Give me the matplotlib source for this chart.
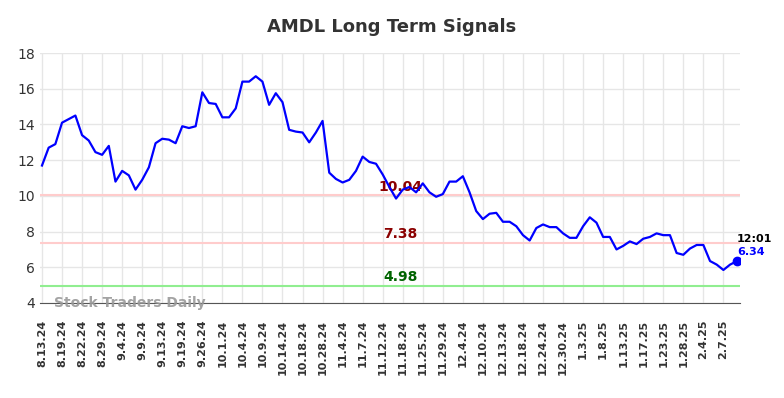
import matplotlib
matplotlib.use("Agg")
import matplotlib.pyplot as plt

# AMDL closing prices (3 sessions per labelled date)
prices = [
    11.7, 12.7, 12.9, 14.1, 14.3, 14.5, 13.4, 13.1, 12.45, 12.3,
    12.8, 10.8, 11.4, 11.15, 10.35, 10.9, 11.6, 12.95, 13.2, 13.15,
    12.95, 13.9, 13.8, 13.9, 15.8, 15.2, 15.15, 14.4, 14.4, 14.9,
    16.4, 16.4, 16.7, 16.4, 15.1, 15.75, 15.25, 13.7, 13.6, 13.55,
    13.0, 13.55, 14.2, 11.3, 10.95, 10.75, 10.9, 11.4, 12.2, 11.9,
    11.8, 11.2, 10.5, 9.85, 10.35, 10.5, 10.2, 10.7, 10.2, 9.95,
    10.1, 10.8, 10.8, 11.1, 10.2, 9.15, 8.7, 9.0, 9.05, 8.55,
    8.55, 8.3, 7.8, 7.5, 8.2, 8.4, 8.25, 8.25, 7.9, 7.65,
    7.65, 8.3, 8.8, 8.5, 7.7, 7.7, 7.0, 7.2, 7.45, 7.3,
    7.6, 7.7, 7.9, 7.8, 7.8, 6.8, 6.7, 7.05, 7.25, 7.25,
    6.35, 6.15, 5.85, 6.15, 6.34,
]

tick_labels = [
    "8.13.24", "8.19.24", "8.22.24", "8.29.24", "9.4.24", "9.9.24", "9.13.24",
    "9.19.24", "9.26.24", "10.1.24", "10.4.24", "10.9.24", "10.14.24", "10.18.24",
    "10.28.24", "11.4.24", "11.7.24", "11.12.24", "11.18.24", "11.25.24",
    "11.29.24", "12.4.24", "12.10.24", "12.13.24", "12.18.24", "12.24.24",
    "12.30.24", "1.3.25", "1.8.25", "1.13.25", "1.17.25", "1.23.25", "1.28.25",
    "2.4.25", "2.7.25",
]

resistance_hi = 10.04
resistance_lo = 7.38
support = 4.98
last_time = "12:01"

fig = plt.figure(figsize=(7.84, 3.98), dpi=100)
ax = fig.add_axes([0.051, 0.2387, 0.893, 0.628])

x = list(range(len(prices)))
ax.plot(x, prices, color="blue", linewidth=1.6, zorder=3)
ax.plot(x[-1], prices[-1], "o", color="blue", markersize=6, zorder=4)

ax.axhline(resistance_hi, color="#ffcccc", linewidth=1.5, zorder=2)
ax.axhline(resistance_lo, color="#ffcccc", linewidth=1.5, zorder=2)
ax.axhline(support, color="#90ee90", linewidth=1.5, zorder=2)

mid = 53.7
ax.text(mid, resistance_hi + 0.08, f"{resistance_hi:.2f}", color="#8b0000",
        fontsize=10, fontweight="bold", ha="center", va="bottom", zorder=2)
ax.text(mid, resistance_lo + 0.08, f"{resistance_lo:.2f}", color="#8b0000",
        fontsize=10, fontweight="bold", ha="center", va="bottom")
ax.text(mid, support + 0.08, f"{support:.2f}", color="#006400",
        fontsize=10, fontweight="bold", ha="center", va="bottom")

ax.text(x[-1], prices[-1] + 1.25, last_time, color="black", fontsize=8,
        fontweight="bold", ha="left", va="center")
ax.text(x[-1], prices[-1] + 0.5, f"{prices[-1]:.2f}", color="blue", fontsize=8,
        fontweight="bold", ha="left", va="center")

ax.text(1.8, 4.0, "Stock Traders Daily", color="#999999", fontsize=10,
        fontweight="bold", ha="left", va="center", alpha=0.9)

ax.set_xlim(-0.3, 104.5)
ax.set_ylim(4, 18)
ax.set_yticks(range(4, 19, 2))
ax.set_xticks(range(0, len(prices), 3))
ax.set_xticklabels(tick_labels, rotation=90, fontsize=8, fontweight="bold")
ax.tick_params(axis="y", labelsize=10, colors="#333333", length=0)
ax.tick_params(axis="x", length=0, pad=12, colors="#333333")
ax.grid(True, color="#e6e6e6", linewidth=1)
ax.set_axisbelow(True)
for side in ["left", "right", "top"]:
    ax.spines[side].set_visible(False)
ax.spines["bottom"].set_color("#555555")

fig.suptitle("AMDL Long Term Signals", fontsize=13, fontweight="bold",
             color="#333333", y=0.955)

fig.savefig("out.png", dpi=100)
